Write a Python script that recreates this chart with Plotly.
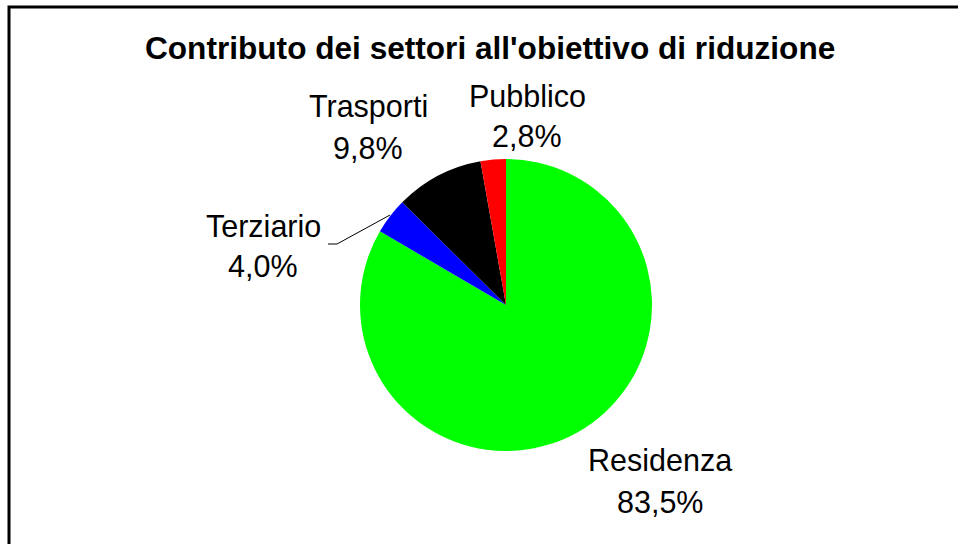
import plotly.graph_objects as go

# Data
labels = ["Residenza", "Terziario", "Trasporti", "Pubblico"]
values = [83.5, 4.0, 9.8, 2.8]
value_text = ["83,5%", "4,0%", "9,8%", "2,8%"]
colors = ["#00FF00", "#0000FF", "#000000", "#FF0000"]
title_text = "Contributo dei settori all'obiettivo di riduzione"

W, H = 958, 544
FONT = "Liberation Sans, Arial, sans-serif"

def px(x):
    return x / W

def py(y):
    return 1 - y / H

fig = go.Figure()
fig.add_trace(go.Pie(
    labels=labels,
    values=values,
    marker=dict(colors=colors, line=dict(width=0)),
    sort=False,
    direction="clockwise",
    rotation=0,
    textinfo="none",
    hoverinfo="label+percent",
    showlegend=False,
    domain=dict(x=[px(360), px(652)], y=[py(451), py(159)]),
))

# label placement (pixel centres of the two text lines)
label_pos = {
    "Residenza": (660, 460, 502),
    "Terziario": (263, 226, 266),
    "Trasporti": (368, 107, 148),
    "Pubblico": (527, 96, 136),
}

annotations = [dict(
    text="<b>" + title_text + "</b>", x=px(490), y=py(48), xref="paper", yref="paper",
    showarrow=False, font=dict(family=FONT, size=31.6, color="black"),
    xanchor="center", yanchor="middle")]
for lab, txt in zip(labels, value_text):
    cx, y1, y2 = label_pos[lab]
    annotations.append(dict(text=lab, x=px(cx), y=py(y1), xref="paper", yref="paper",
                            showarrow=False, font=dict(family=FONT, size=30.5, color="black"),
                            xanchor="center", yanchor="middle"))
    annotations.append(dict(text=txt, x=px(cx), y=py(y2), xref="paper", yref="paper",
                            showarrow=False, font=dict(family=FONT, size=30.5, color="black"),
                            xanchor="center", yanchor="middle"))

shapes = [
    # chart frame
    dict(type="rect", xref="paper", yref="paper", x0=px(9), y0=py(7), x1=px(975), y1=py(560),
         line=dict(color="black", width=3), fillcolor="rgba(0,0,0,0)", layer="above"),
    # leader line for Terziario
    dict(type="path", xref="paper", yref="paper",
         path=f"M {px(328)},{py(244)} L {px(337)},{py(244)} L {px(390)},{py(215)}",
         line=dict(color="black", width=1)),
]

fig.update_layout(
    width=W, height=H,
    margin=dict(l=0, r=0, t=0, b=0),
    paper_bgcolor="white",
    plot_bgcolor="white",
    annotations=annotations,
    shapes=shapes,
)

fig.write_html("out.html", config={"displayModeBar": False},
               post_script="document.body.style.margin='0';document.body.style.overflow='hidden';")
